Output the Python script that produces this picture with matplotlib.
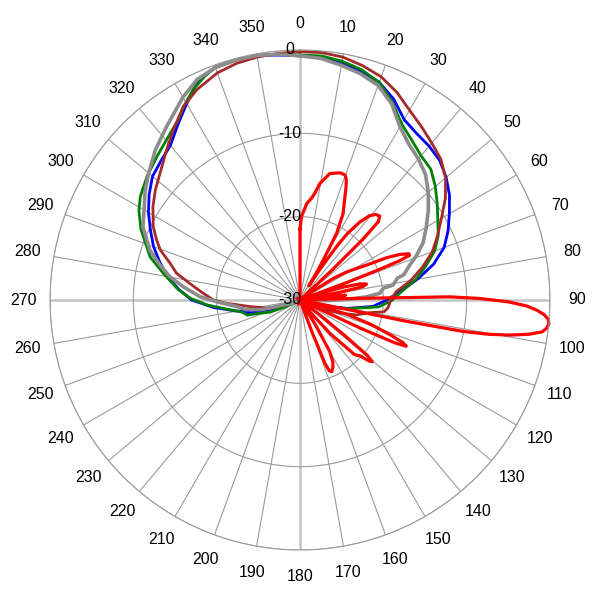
import numpy as np
import matplotlib
matplotlib.use("Agg")
import matplotlib.pyplot as plt
from matplotlib.transforms import offset_copy

plt.rcParams['font.family'] = ['Liberation Sans', 'DejaVu Sans']

# angle (deg, clockwise from north) and level (dB) for each trace
blue_ang = [0, 5, 10, 15, 20, 25, 30, 35, 40, 45, 50, 55, 60, 65, 70, 75, 80, 85, 90, 95,
            100, 105, 110, 115, 250, 255, 257, 258, 260, 265, 270, 275, 280, 285, 290, 295,
            300, 305, 310, 315, 320, 325, 330, 335, 340, 345, 350, 355]
blue_db = [-0.7, -0.8, -1.1, -1.6, -2.2, -3.4, -5.0, -5.6, -5.9, -6.3, -7.1, -8.1, -9.3, -10.4,
           -11.6, -13.4, -15.7, -17.9, -19.6, -21.2, -24.2, -27.3, -29.5, -30, -27.5, -24.2,
           -23.2, -23.6, -22.3, -19.6, -17.0, -15.4, -13.9, -12.6, -11.3, -10.2, -9.0, -7.9,
           -6.9, -6.4, -5.8, -4.4, -2.8, -1.0, -0.3, -0.2, -0.2, -0.5]

green_ang = [0, 5, 10, 15, 20, 25, 30, 35, 40, 45, 50, 55, 60, 65, 70, 75, 80, 85, 90, 95,
             100, 105, 110, 115, 245, 248, 252, 254, 256, 259, 263, 267, 271, 275, 281, 286,
             290, 294, 299, 303, 309, 315, 320, 326, 329, 333, 337, 340, 345, 350, 355]
green_db = [-0.6, -0.6, -0.9, -1.4, -2.2, -3.8, -5.6, -6.6, -7.4, -7.8, -8.8, -9.9, -10.9,
            -11.7, -12.8, -14.4, -15.9, -17.7, -18.9, -20.5, -24.0, -26.8, -29.5, -30, -28.0,
            -26.1, -24.8, -23.4, -23.2, -22.7, -21.1, -18.8, -16.8, -15.3, -13.3, -11.3,
            -10.3, -9.1, -7.9, -7.15, -6.4, -5.7, -5.0, -3.9, -2.9, -1.7, -0.8, -0.3, -0.2,
            -0.2, -0.4]

brown_ang = [0, 5, 10, 15, 20, 25, 30, 35, 40, 45, 50, 55, 60, 65, 70, 75, 80, 85, 90, 95,
             98, 100, 105, 108, 113, 118, 122, 250, 254.5, 262.4, 267.4, 270, 275, 278.6,
             282.2, 285.8, 289.7, 292.7, 296.6, 302.4, 307.2, 312.1, 318.4, 323.3, 328.9,
             333.8, 340, 345, 350, 355]
brown_db = [-0.2, -0.2, -0.4, -0.9, -1.5, -2.5, -3.7, -4.6, -5.4, -6.1, -7.2, -8.7, -10.4,
            -11.8, -13.1, -14.8, -16.5, -18.4, -19.1, -19.4, -19.8, -21.3, -23.1, -24.9,
            -27.0, -29.5, -30, -28.5, -26.3, -24.0, -21.2, -19.6, -18.0, -16.6, -14.85,
            -13.8, -12.2, -11.35, -10.3, -9.1, -8.2, -7.35, -5.9, -4.55, -2.9, -1.9, -1.0,
            -0.6, -0.4, -0.3]

gray_ang = [0, 5, 10, 15, 20, 25, 30, 35, 40, 45, 50, 55, 60, 65, 69, 72.4, 76.4, 77.3, 80.9,
            82, 85.2, 87.2, 89, 91, 94, 98, 250, 253.3, 256, 260, 264, 268.8, 271.9, 276.5,
            280.2, 284, 288.4, 295, 300, 305, 310, 316, 322.4, 330, 335, 340, 345, 350, 355]
gray_db = [-0.7, -0.9, -1.4, -1.9, -2.6, -4.0, -6.0, -7.2, -7.9, -8.7, -9.9, -11.2, -12.5,
           -13.7, -15.0, -16.2, -17.2, -18.0, -18.7, -19.9, -20.4, -22.0, -24.0, -26.5, -28.5,
           -30, -28.5, -27.9, -25.2, -23.4, -22.4, -20.0, -18.0, -15.9, -14.1, -12.7, -11.0,
           -9.2, -8.4, -7.3, -6.3, -5.0, -3.75, -1.9, -0.8, -0.3, -0.2, -0.2, -0.4]

red_ang = [0, 1, 4, 6.5, 8, 9.7, 13.3, 17.5, 19.8, 21, 22.1, 24.5, 26.5, 28.8, 29.7, 31, 32,
           33, 34.5, 35.5, 37.5, 39.5, 41.5, 43.5, 45, 46, 47, 48,
           55, 57, 59, 61, 62.5, 64, 65.5, 67, 67.8, 68.5, 69, 69.5, 70,
           71, 72, 73.5, 75, 76.5, 78, 79, 80,
           82, 84, 85.5, 86.5,
           87.5, 88.3, 88.8, 89.5, 90.5, 91.5, 92.5, 93.5, 94.5, 95.5, 96.5, 97.5, 98.5,
           99.5, 100.3, 100.9, 101.3, 101.7,
           103, 105, 107, 109, 111, 112.5, 113.5, 114.3, 115, 115.5,
           124, 127, 128.5, 129.5, 130.5, 131.5, 133, 135, 138, 140, 141,
           146, 148, 150, 152, 154, 156, 157.5, 158.5, 159.5, 160.5,
           200, 240, 300, 330, 358]
red_db = [-21.5, -20.0, -18.4, -17.7, -17.0, -15.8, -14.4, -14.0, -14.05, -14.5, -15.3, -17.2,
          -18.4, -20.9, -23.5, -25.8, -28.0,
          -25.5, -22.0, -20.2, -18.2, -16.9, -16.3, -16.1, -16.7, -19.5, -25.0, -30,
          -28.5, -25.2, -23.5, -22.1, -20.8, -18.4, -16.8, -15.8, -15.8, -17.2, -20.0, -24.0, -30,
          -30, -27.0, -24.5, -22.5, -21.8, -22.3, -25.0, -30,
          -27.0, -24.5, -25.5, -30,
          -30, -24.0, -12.0, -8.5, -5.0, -2.8, -1.5, -0.6, -0.1, 0.0, -0.2, -0.7, -2.2,
          -4.5, -7.0, -10.0, -17.0, -30,
          -30, -27.5, -24.0, -21.0, -18.5, -16.6, -16.1, -17.5, -22.0, -30,
          -30, -27.0, -23.0, -19.5, -18.6, -19.0, -20.2, -20.7, -24.5, -28.0, -30,
          -30, -26.5, -22.9, -21.6, -21.0, -20.6, -20.8, -21.8, -26.0, -30,
          -29.5, -30, -29.6, -30, -30]

series = [
    (blue_ang, blue_db, '#0000ff', 2.0),
    (green_ang, green_db, '#008000', 2.0),
    (brown_ang, brown_db, '#a52a2a', 2.0),
    (gray_ang, gray_db, '#8c8c8c', 2.6),
    (red_ang, red_db, '#ff0000', 2.3),
]

fig = plt.figure(figsize=(6, 6), dpi=100)
ax = fig.add_axes([50 / 600, 50 / 600, 500 / 600, 500 / 600], projection='polar')
ax.set_theta_zero_location('N')
ax.set_theta_direction(-1)
ax.set_rlim(-30, 0)
ax.set_axisbelow(True)

ax.set_thetagrids(np.arange(0, 360, 10), labels=[''] * 36)
ax.set_rgrids([-20, -10, 0], labels=[''] * 3)
ax.xaxis.grid(True, color='#9a9a9a', lw=0.8)
ax.yaxis.grid(True, color='#9a9a9a', lw=0.8)
for i, gl in enumerate(ax.xaxis.get_gridlines()):
    if i % 9 == 0:
        gl.set_color('#c4c4c4')
        gl.set_linewidth(1.8)
ax.spines['polar'].set_color('#9a9a9a')
ax.spines['polar'].set_linewidth(0.8)
ax.tick_params(length=0, pad=0)

for ang, db, col, lw in series:
    a = np.deg2rad(np.append(ang, ang[0]))
    v = np.clip(np.append(db, db[0]), -30, 0)
    ax.plot(a, v, color=col, lw=lw, clip_on=False, solid_joinstyle='round')

# angle labels round the outside
for a in range(0, 360, 10):
    ax.text(np.deg2rad(a), 3.2, str(a), ha='center', va='center', fontsize=11.5)

# level labels along the 0 deg spoke
lab_tr = offset_copy(ax.transData, fig=fig, x=-10, y=0, units='dots')
for lev in [0, -10, -20, -30]:
    ax.text(0, lev, str(lev), transform=lab_tr, ha='center', va='center', fontsize=11.5)

fig.savefig('out.png', dpi=100)
